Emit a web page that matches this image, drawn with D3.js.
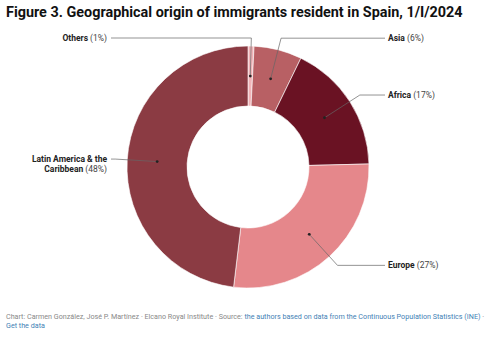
<!DOCTYPE html>
<html>
<head>
<meta charset="utf-8">
<title>Geographical origin of immigrants resident in Spain</title>
<style>
    body {
        margin: 0;
        background: #fff;
        font-family: Roboto, sans-serif;
    }
    .label-name { font-weight: 700; fill: #222; }
    .label-val { fill: #444; }
    .footer { fill: #888; }
    .footer .link { fill: #3f7fb5; }
</style>
</head>
<body>
<script src="https://cdn.jsdelivr.net/npm/d3@7"></script>
<script>
// data, clockwise from 12 o'clock
var regions = ["Others", "Asia", "Africa", "Europe", "Latin America & the Caribbean"];
var shares = [0.8, 6.4, 17.4, 27.3, 48.1];
var shareLabels = ["1%", "6%", "17%", "27%", "48%"];
var colors = ["#f0b4b8", "#b86064", "#6a1223", "#e5878b", "#8b3b43"];

var W = 490, H = 337;
var cx = 248, cy = 167, R = 121, r0 = 61;

var svg = d3.select("body").append("svg")
    .attr("width", W)
    .attr("height", H);

// shrink a text until it fits the given width
function fit(sel, maxW, size) {
    sel.attr("font-size", size);
    var w = sel.node().getComputedTextLength();
    if (w > maxW) sel.attr("font-size", size * maxW / w);
}

// title
var title = svg.append("text")
    .attr("x", 6)
    .attr("y", 17)
    .attr("font-weight", 700)
    .attr("fill", "#111")
    .text("Figure 3. Geographical origin of immigrants resident in Spain, 1/I/2024");
fit(title, 457, 16);

var pie = d3.pie().sort(null).value(function (d) { return d; });
var arcs = pie(shares);

var arc = d3.arc().innerRadius(r0).outerRadius(R);
var outer = d3.arc().innerRadius(R + 12).outerRadius(R + 12);

var g = svg.append("g").attr("transform", "translate(" + cx + "," + cy + ")");

g.selectAll("path.slice")
    .data(arcs)
    .enter()
    .append("path")
    .attr("class", "slice")
    .attr("d", arc)
    .attr("fill", function (d, i) { return colors[i]; })
    .attr("stroke", "#fff")
    .attr("stroke-width", 0.6);

// leader lines + labels
arcs.forEach(function (d, i) {
    var c = arc.centroid(d);
    var e = outer.centroid(d);
    var right = e[0] > 6;   // tiny wedge at the top goes left
    var ly = Math.max(e[1], 38 - cy);
    var ex = e[0];
    var endX = right ? R + 16 : -(R + 16);

    g.append("path")
        .attr("d", "M" + c[0] + "," + c[1] + "L" + ex + "," + ly + "L" + endX + "," + ly)
        .attr("fill", "none")
        .attr("stroke", "#666")
        .attr("stroke-width", 0.7);
    g.append("circle")
        .attr("cx", c[0]).attr("cy", c[1]).attr("r", 1.4)
        .attr("fill", "#222");

    var tx = right ? R + 19 : -(R + 20);
    var t = g.append("text")
        .attr("x", tx)
        .attr("y", ly + 3)
        .attr("font-size", 8.5)
        .attr("text-anchor", right ? "start" : "end");

    if (regions[i] === "Latin America & the Caribbean") {
        t.append("tspan").attr("class", "label-name").text("Latin America & the");
        var t2 = g.append("text")
            .attr("x", tx)
            .attr("y", ly + 13)
            .attr("font-size", 8.5)
            .attr("text-anchor", "end");
        t2.append("tspan").attr("class", "label-name").text("Caribbean");
        t2.append("tspan").attr("class", "label-val").text(" (" + shareLabels[i] + ")");
    } else {
        t.append("tspan").attr("class", "label-name").text(regions[i]);
        t.append("tspan").attr("class", "label-val").text(" (" + shareLabels[i] + ")");
    }
});

// footer
var f1 = svg.append("text").attr("class", "footer").attr("x", 6).attr("y", 319);
f1.append("tspan").text("Chart: Carmen González, José P. Martínez · Elcano Royal Institute · Source: ");
f1.append("tspan").attr("class", "link").text("the authors based on data from the Continuous Population Statistics (INE)");
f1.append("tspan").text(" ·");
fit(f1, 479, 8.5);
var f2 = svg.append("text").attr("class", "footer").attr("x", 6).attr("y", 328)
    .attr("font-size", f1.attr("font-size"));
f2.append("tspan").attr("class", "link").text("Get the data");
</script>
</body>
</html>
